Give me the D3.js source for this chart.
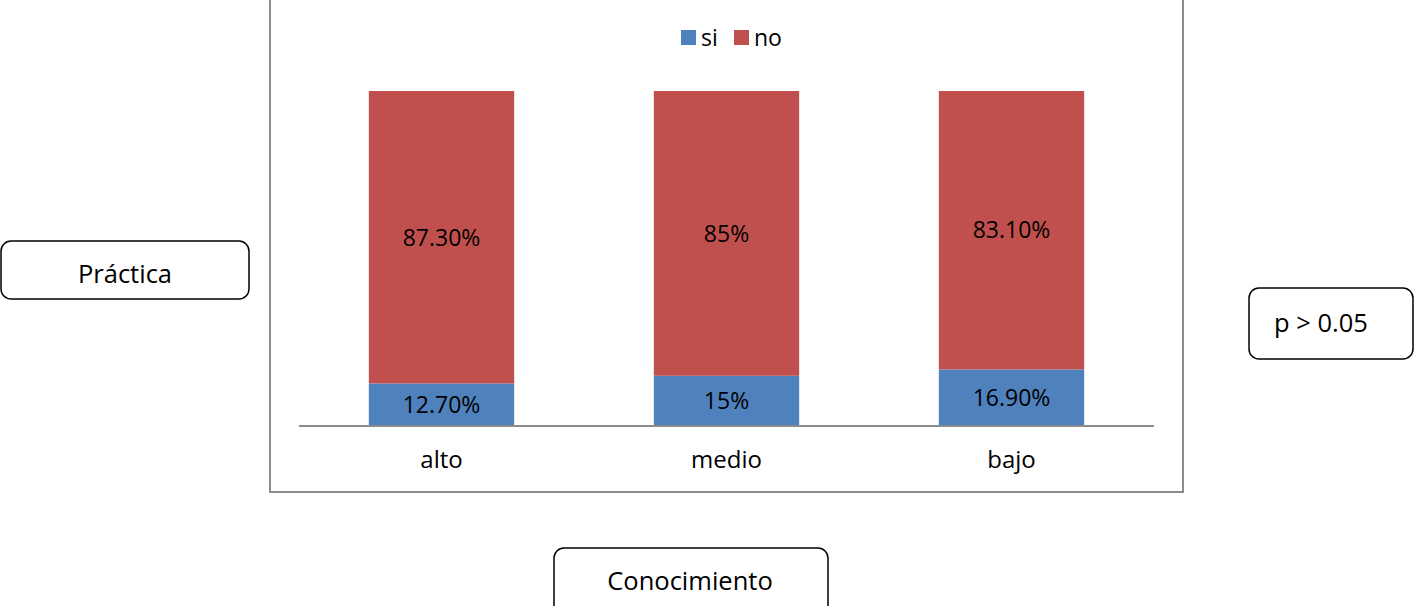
<!DOCTYPE html>
<html>
<head>
<meta charset="utf-8">
<script src="https://cdn.jsdelivr.net/npm/d3@7"></script>
<style>
  body { margin: 0; background: #fff; }
  svg text { font-family: "Open Sans", sans-serif; fill: #000; }
</style>
</head>
<body>
<div id="chart"></div>
<script>
// data
var categories = ["alto", "medio", "bajo"];
var si_values = [12.7, 15, 16.9];
var no_values = [87.3, 85, 83.1];
var si_labels = ["12.70%", "15%", "16.90%"];
var no_labels = ["87.30%", "85%", "83.10%"];
var series = ["si", "no"];
var colors = ["#4F81BD", "#C0504D"];

var width = 1414, height = 606;

var svg = d3.select("#chart")
    .append("svg")
    .attr("width", width)
    .attr("height", height);

// chart frame (top edge is off the picture)
svg.append("rect")
    .attr("x", 270).attr("y", -10)
    .attr("width", 913).attr("height", 502)
    .attr("fill", "none")
    .attr("stroke", "#8c8c8c")
    .attr("stroke-width", 2);

var x = d3.scaleBand()
    .domain(categories)
    .range([299, 1154])
    .paddingInner(0.49)
    .paddingOuter(0.245);

var y = d3.scaleLinear()
    .domain([0, 100])
    .range([426, 91]);

var rows = categories.map(function(c, i) {
  return {cat: c, si: si_values[i], no: no_values[i]};
});
var stack = d3.stack().keys(series)(rows);

var layers = svg.selectAll("g.layer")
    .data(stack)
    .enter()
    .append("g")
    .attr("class", "layer")
    .attr("fill", function(d, i) { return colors[i]; });

layers.selectAll("rect")
    .data(function(d) { return d; })
    .enter()
    .append("rect")
    .attr("x", function(d) { return x(d.data.cat); })
    .attr("y", function(d) { return y(d[1]); })
    .attr("width", x.bandwidth())
    .attr("height", function(d) { return y(d[0]) - y(d[1]); });

// value labels
var labels = [si_labels, no_labels];
layers.selectAll("text")
    .data(function(d, i) { return d.map(function(p, j) { return {p: p, t: labels[i][j]}; }); })
    .enter()
    .append("text")
    .attr("x", function(d) { return x(d.p.data.cat) + x.bandwidth() / 2; })
    .attr("y", function(d) { return (y(d.p[0]) + y(d.p[1])) / 2; })
    .attr("dy", "0.36em")
    .attr("text-anchor", "middle")
    .style("font-size", "23px")
    .text(function(d) { return d.t; });

// x axis
var xAxis = svg.append("g")
    .attr("transform", "translate(0,426)")
    .call(d3.axisBottom(x).tickSize(0).tickPadding(25));
xAxis.select(".domain").attr("stroke", "#8c8c8c").attr("stroke-width", 2)
    .attr("d", "M299,0H1154");
xAxis.selectAll("text").style("font-size", "24px").style("fill", "#000");

// legend
var legendX = [681, 734];
var legend = svg.selectAll("g.legend")
    .data(series)
    .enter()
    .append("g")
    .attr("class", "legend")
    .attr("transform", function(d, i) { return "translate(" + legendX[i] + ",30)"; });
legend.append("rect")
    .attr("width", 15).attr("height", 15)
    .attr("fill", function(d, i) { return colors[i]; });
legend.append("text")
    .attr("x", 20).attr("y", 8).attr("dy", "0.36em")
    .style("font-size", "23px")
    .text(function(d) { return d; });

// rounded text boxes around the chart
var boxes = [
  {text: "Práctica", x: 1, y: 241, w: 248, h: 58, tx: 125, ty: 274, anchor: "middle"},
  {text: "p > 0.05", x: 1249, y: 288, w: 164, h: 71, tx: 1274, ty: 323, anchor: "start"},
  {text: "Conocimiento", x: 554, y: 548, w: 274, h: 70, tx: 690, ty: 581, anchor: "middle"}
];
var box = svg.selectAll("g.box")
    .data(boxes)
    .enter()
    .append("g")
    .attr("class", "box");
box.append("rect")
    .attr("x", function(d) { return d.x; })
    .attr("y", function(d) { return d.y; })
    .attr("width", function(d) { return d.w; })
    .attr("height", function(d) { return d.h; })
    .attr("rx", 10)
    .attr("fill", "#fff")
    .attr("stroke", "#000")
    .attr("stroke-width", 1.5);
box.append("text")
    .attr("x", function(d) { return d.tx; })
    .attr("y", function(d) { return d.ty; })
    .attr("dy", "0.36em")
    .attr("text-anchor", function(d) { return d.anchor; })
    .style("font-size", "25.5px")
    .text(function(d) { return d.text; });
</script>
</body>
</html>
